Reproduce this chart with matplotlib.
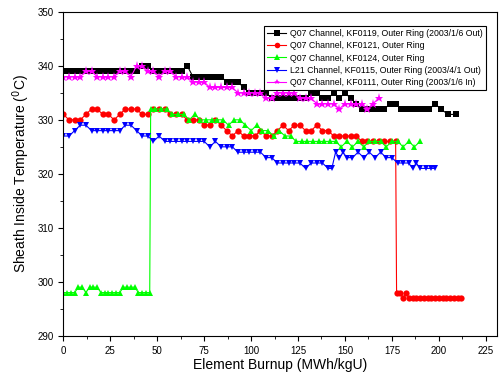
import matplotlib
matplotlib.use("Agg")
import matplotlib.pyplot as plt
from matplotlib.ticker import MultipleLocator

plt.rcParams['font.family'] = ['Liberation Sans', 'DejaVu Sans']

# KF0119 (black squares)
x_kf0119 = [0, 3, 6, 9, 12, 15, 18, 21, 24, 27, 30, 33, 36, 39, 42, 45, 48, 51, 54, 57,
            60, 63, 66, 69, 72, 75, 78, 81, 84, 87, 90, 93, 96, 99, 102, 105, 108, 111, 114, 117,
            120, 123, 126, 129, 132, 135, 138, 141, 144, 147, 150, 153, 156, 159, 162, 165, 168, 171, 174, 177,
            180, 183, 186, 189, 192, 195, 198, 201, 205, 209]
t_kf0119 = [339, 339, 339, 339, 339, 339, 339, 339, 339, 339, 339, 339, 339, 339, 340, 340, 339, 339, 339, 339,
            339, 339, 340, 338, 338, 338, 338, 338, 338, 337, 337, 337, 336, 335, 335, 335, 335, 334, 334, 334,
            334, 334, 334, 334, 335, 335, 334, 334, 335, 334, 335, 334, 333, 332, 332, 332, 332, 332, 333, 333,
            332, 332, 332, 332, 332, 332, 333, 332, 331, 331]

# KF0121 (red circles)
x_kf0121 = [0, 3, 6, 9, 12, 15, 18, 21, 24, 27, 30, 33, 36, 39, 42, 45, 48, 51, 54, 57,
            60, 63, 66, 69, 72, 75, 78, 81, 84, 87, 90, 93, 96, 99, 102, 105, 108, 111, 114, 117,
            120, 123, 126, 129, 132, 135, 138, 141, 144, 147, 150, 153, 156, 159, 162, 165, 168, 171, 174, 177,
            177.5, 179.5, 181, 182.5, 184, 186, 188, 190, 192, 194, 196, 198, 200, 202, 204, 206, 208, 210, 212]
t_kf0121 = [331, 330, 330, 330, 331, 332, 332, 331, 331, 330, 331, 332, 332, 332, 331, 331, 332, 332, 332, 331,
            331, 331, 330, 330, 330, 329, 329, 330, 329, 328, 327, 328, 327, 327, 327, 328, 327, 327, 328, 329,
            328, 329, 329, 328, 328, 329, 328, 328, 327, 327, 327, 327, 327, 326, 326, 326, 326, 326, 326, 326,
            298, 298, 297, 298, 297, 297, 297, 297, 297, 297, 297, 297, 297, 297, 297, 297, 297, 297, 297]

# KF0124 (green triangles)
x_kf0124 = [0, 2, 4, 6, 8, 10, 12, 14, 16, 18, 20, 22, 24, 26, 28, 30, 32, 34, 36, 38,
            40, 42, 44, 46, 46.5, 49, 52, 55, 58, 61, 64, 67, 70, 73, 76, 79, 82, 85, 88, 91,
            94, 97, 100, 103, 106, 109, 112, 115, 118, 121, 124, 127, 130, 133, 136, 139, 142, 145, 148, 151,
            154, 157, 160, 163, 166, 169, 172, 175, 178, 181, 184, 187, 190]
t_kf0124 = [298, 298, 298, 298, 299, 299, 298, 299, 299, 299, 298, 298, 298, 298, 298, 298, 299, 299, 299, 299,
            298, 298, 298, 298, 332, 332, 332, 332, 331, 331, 331, 330, 331, 330, 330, 330, 330, 330, 329, 330,
            330, 329, 328, 329, 328, 328, 327, 328, 327, 327, 326, 326, 326, 326, 326, 326, 326, 326, 325, 326,
            325, 326, 325, 326, 326, 326, 325, 326, 326, 325, 326, 325, 326]

# KF0115 (blue down-triangles)
x_kf0115 = [0, 3, 6, 9, 12, 15, 18, 21, 24, 27, 30, 33, 36, 39, 42, 45, 48, 51, 54, 57,
            60, 63, 66, 69, 72, 75, 78, 81, 84, 87, 90, 93, 96, 99, 102, 105, 108, 111, 114, 117,
            120, 123, 126, 129, 132, 135, 138, 141, 143, 145, 147, 149, 151, 154, 157, 160, 163, 166, 169, 172,
            175, 178, 181, 184, 186, 188, 190, 193, 196, 198]
t_kf0115 = [327, 327, 328, 329, 329, 328, 328, 328, 328, 328, 328, 329, 329, 328, 327, 327, 326, 327, 326, 326,
            326, 326, 326, 326, 326, 326, 325, 326, 325, 325, 325, 324, 324, 324, 324, 324, 323, 323, 322, 322,
            322, 322, 322, 321, 322, 322, 322, 321, 321, 324, 323, 324, 323, 323, 324, 323, 324, 323, 324, 323,
            323, 322, 322, 322, 321, 322, 321, 321, 321, 321]

# KF0111 (magenta stars)
x_kf0111 = [0, 3, 6, 9, 12, 15, 18, 21, 24, 27, 30, 33, 36, 39, 42, 45, 48, 51, 54, 57,
            60, 63, 66, 69, 72, 75, 78, 81, 84, 87, 90, 93, 96, 99, 102, 105, 108, 111, 114, 117,
            120, 123, 126, 129, 132, 135, 138, 141, 144, 147, 150, 153, 156, 159, 162, 165, 168]
t_kf0111 = [338, 338, 338, 338, 339, 339, 338, 338, 338, 338, 339, 339, 338, 340, 340, 339, 339, 338, 339, 339,
            338, 338, 338, 337, 337, 337, 336, 336, 336, 336, 336, 335, 335, 335, 335, 335, 334, 334, 335, 335,
            335, 335, 334, 334, 334, 333, 333, 333, 333, 332, 333, 333, 333, 333, 332, 333, 334]

labels = ["Q07 Channel, KF0119, Outer Ring (2003/1/6 Out)",
          "Q07 Channel, KF0121, Outer Ring",
          "Q07 Channel, KF0124, Outer Ring",
          "L21 Channel, KF0115, Outer Ring (2003/4/1 Out)",
          "Q07 Channel, KF0111, Outer Ring (2003/1/6 In)"]

fig = plt.figure(figsize=(4.99, 3.82), dpi=100)
ax = fig.add_axes([0.127, 0.121, 0.869, 0.848])

series = [
    (x_kf0119, t_kf0119, 'black', 's', 4.3),
    (x_kf0121, t_kf0121, 'red', 'o', 4.5),
    (x_kf0124, t_kf0124, '#00ff00', '^', 5),
    (x_kf0115, t_kf0115, 'blue', 'v', 5),
    (x_kf0111, t_kf0111, 'magenta', '*', 6.5),
]
for (xs, ys, c, m, ms), lab in zip(series, labels):
    ax.plot(xs, ys, color=c, marker=m, markersize=ms, linewidth=0.8, label=lab,
            markeredgewidth=0)

ax.set_xlim(0, 231)
ax.set_ylim(290, 350)
ax.xaxis.set_major_locator(MultipleLocator(25))
ax.xaxis.set_minor_locator(MultipleLocator(12.5))
ax.yaxis.set_major_locator(MultipleLocator(10))
ax.yaxis.set_minor_locator(MultipleLocator(5))
ax.tick_params(which='both', direction='out', top=False, right=False, labelsize=7)
ax.tick_params(which='major', length=3.5)
ax.tick_params(which='minor', length=2)
ax.set_xlabel("Element Burnup (MWh/kgU)", fontsize=10, labelpad=2)
ax.set_ylabel("Sheath Inside Temperature ($^0$C)", fontsize=10, labelpad=4)

leg = ax.legend(loc='upper right', bbox_to_anchor=(0.985, 0.97), fontsize=6.3,
                frameon=True, fancybox=False, edgecolor='black', framealpha=1,
                handlelength=2.2, labelspacing=0.35, borderpad=0.4, handletextpad=0.4)
leg.get_frame().set_linewidth(0.8)
for h in leg.legend_handles:
    h.set_markersize(4)

fig.savefig("out.png", dpi=100)
